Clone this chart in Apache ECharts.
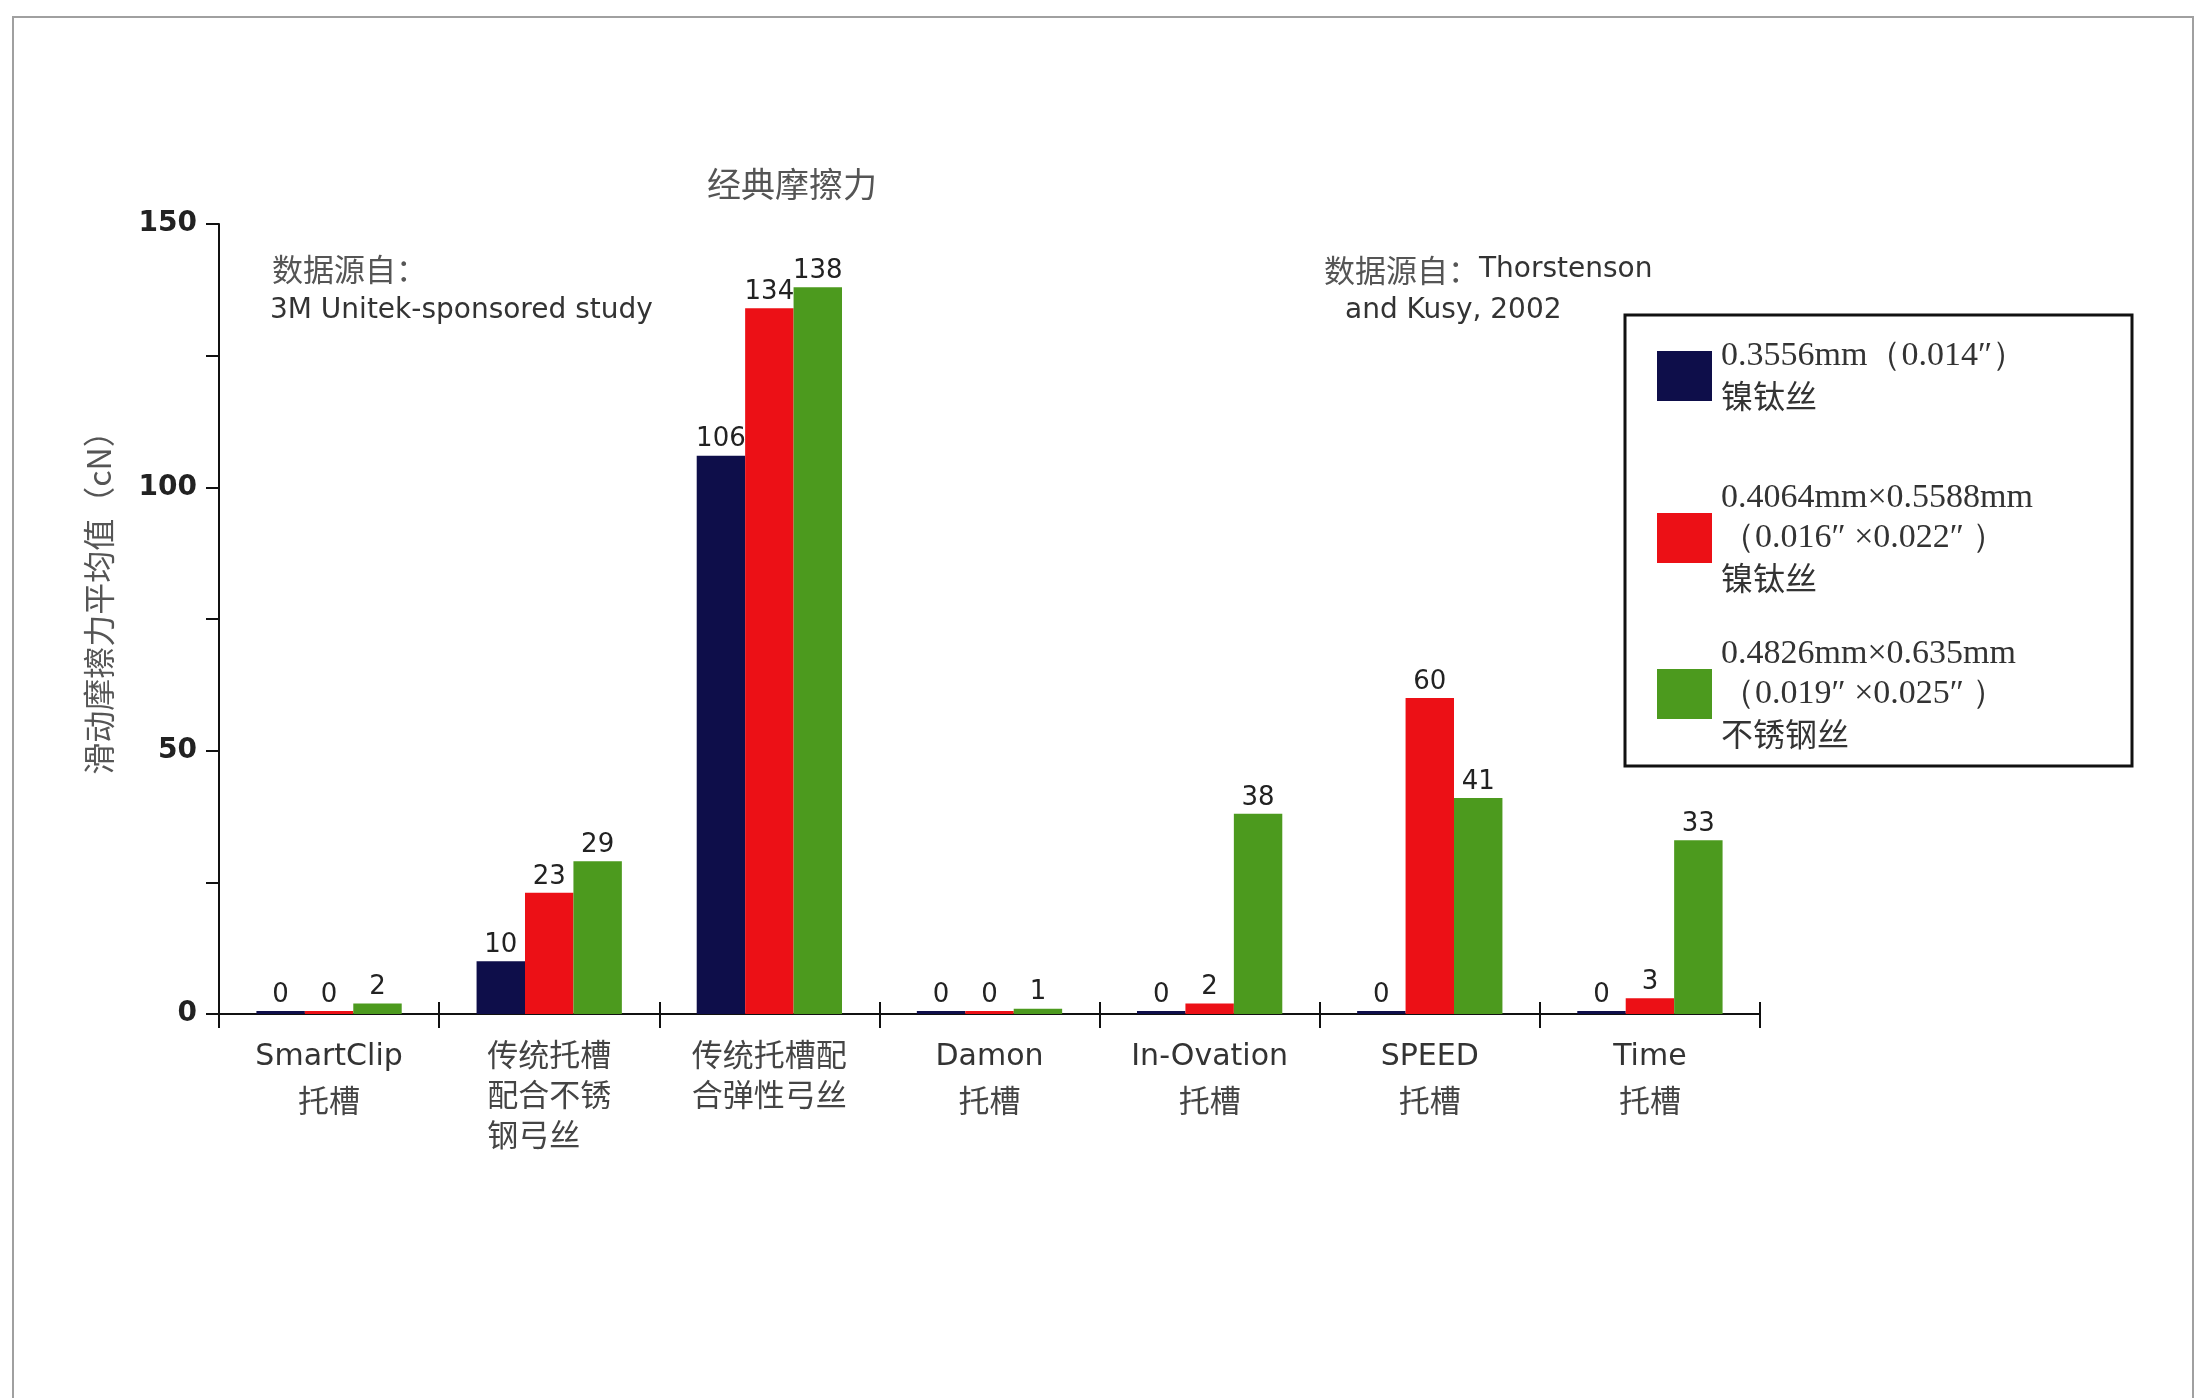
<!DOCTYPE html>
<html>
<head>
<meta charset="utf-8">
<script src="https://cdn.jsdelivr.net/npm/echarts@6/dist/echarts.min.js"></script>
<style>
  html, body { margin: 0; padding: 0; background: #ffffff; }
  #wrap { position: relative; width: 2197px; height: 1398px; overflow: hidden; }
  #chart { position: absolute; left: 0; top: 0; width: 2197px; height: 1398px; }
  #frame { position: absolute; left: 12px; top: 16px; width: 2178px; height: 1400px;
           border: 2px solid #a0a0a0; border-bottom: none; pointer-events: none; }
</style>
</head>
<body>
<div id="wrap">
  <div id="chart"></div>
  <div id="frame"></div>
</div>
<script>
// Bracket types compared in the classic friction test
const categories = [
  'SmartClip\n托槽',
  '传统托槽\n配合不锈\n钢弓丝',
  '传统托槽配\n合弹性弓丝',
  'Damon\n托槽',
  'In-Ovation\n托槽',
  'SPEED\n托槽',
  'Time\n托槽'
];

// Archwire types (legend entries)
const wireNames = [
  '0.3556mm（0.014″）\n镍钛丝',
  '0.4064mm×0.5588mm\n（0.016″ ×0.022″ ）\n镍钛丝',
  '0.4826mm×0.635mm\n（0.019″ ×0.025″ ）\n不锈钢丝'
];

// Mean sliding friction (cN) per bracket, one array per wire
const niti014 = [0, 10, 106, 0, 0, 0, 0];
const niti016x022 = [0, 23, 134, 0, 2, 60, 3];
const ss019x025 = [2, 29, 138, 1, 38, 41, 33];

const yTicks = [0, 50, 100, 150];

const wireColors = ['#0e0e4a', '#ec1016', '#4c9a1e'];

const EN = "'DejaVu Sans', 'Noto Sans', sans-serif";
const ZH = "'Noto Sans CJK SC', sans-serif";
const SERIF = "'Liberation Serif', 'DejaVu Serif', serif";
const isZh = s => /[\u3400-\u9fff]/.test(s);

// Category labels: Latin lines and Chinese lines get their own styles;
// shorter Chinese lines are padded so the block reads left-aligned.
function categoryLabel(value) {
  const lines = value.split('\n');
  const zhMax = Math.max(0, ...lines.filter(isZh).map(l => l.length));
  return lines.map(l => {
    if (isZh(l)) {
      return '{zh|' + l + '　'.repeat(zhMax - l.length) + '}';
    }
    return '{en|' + l + '}';
  }).join('\n');
}

function legendLabel(name) {
  return name.split('\n').map(l => {
    if (/^[\u3400-\u9fff]+$/.test(l)) return '{zh|' + l + '}';
    return '{num|' + l + '}';
  }).join('\n');
}

const legendRich = {
  num: { fontFamily: SERIF, fontSize: 34, lineHeight: 40, color: '#333' },
  zh: { fontFamily: ZH, fontSize: 32, lineHeight: 40, color: '#333' }
};

const legendTops = [339, 481, 637];

const seriesData = [niti014, niti016x022, ss019x025];

const chart = echarts.init(document.getElementById('chart'), null, { renderer: 'canvas' });

chart.setOption({
  backgroundColor: '#ffffff',
  animation: false,
  grid: { left: 219, top: 224, width: 1541, height: 790, containLabel: false },
  legend: wireNames.map((name, i) => ({
    data: [name],
    orient: 'vertical',
    left: 1657,
    top: legendTops[i],
    padding: 0,
    icon: 'rect',
    itemWidth: 55,
    itemHeight: 50,
    selectedMode: false,
    formatter: legendLabel,
    textStyle: { padding: [0, 0, 0, 4], rich: legendRich }
  })),
  xAxis: [
    {
      type: 'category',
      position: 'bottom',
      data: categories,
      axisLine: { show: true, lineStyle: { color: '#111', width: 2 } },
      axisTick: { show: true, length: 14, lineStyle: { color: '#111', width: 2 } },
      axisLabel: {
        margin: 20,
        interval: 0,
        formatter: categoryLabel,
        rich: {
          en: { fontFamily: EN, fontSize: 30, lineHeight: 46, color: '#333' },
          zh: { fontFamily: ZH, fontSize: 31, lineHeight: 40, color: '#444' }
        }
      }
    },
    {
      type: 'category',
      position: 'bottom',
      data: categories,
      axisLine: { show: false },
      axisTick: { show: true, inside: true, length: 12, lineStyle: { color: '#111', width: 2 } },
      axisLabel: { show: false }
    }
  ],
  yAxis: {
    type: 'value',
    min: yTicks[0],
    max: yTicks[yTicks.length - 1],
    interval: yTicks[1] - yTicks[0],
    name: '滑动摩擦力平均值（cN）',
    nameLocation: 'middle',
    nameGap: 104,
    nameTextStyle: { fontFamily: ZH, fontSize: 32, color: '#555', padding: [0, 0, 0, 48] },
    axisLine: { show: true, lineStyle: { color: '#111', width: 2 } },
    axisTick: { show: true, length: 13, lineStyle: { color: '#111', width: 2 } },
    minorTick: { show: true, splitNumber: 2, length: 13, lineStyle: { color: '#111', width: 2 } },
    splitLine: { show: false },
    axisLabel: { margin: 22, fontFamily: EN, fontWeight: 'bold', fontSize: 28, color: '#222' }
  },
  series: wireNames.map((name, i) => ({
    name: name,
    type: 'bar',
    data: seriesData[i],
    barGap: '0%',
    barCategoryGap: '34%',
    barMinHeight: 3,
    itemStyle: { color: wireColors[i] },
    label: {
      show: true,
      position: 'top',
      distance: 3,
      fontFamily: EN,
      fontSize: 26,
      color: '#222'
    }
  })),
  graphic: [
    {
      type: 'text', x: 792, y: 184,
      style: { text: '经典摩擦力', fontFamily: ZH, fontSize: 34, fill: '#555', align: 'center', verticalAlign: 'middle' }
    },
    {
      type: 'text', x: 272, y: 269,
      style: { text: '数据源自：', fontFamily: ZH, fontSize: 31, fill: '#555', align: 'left', verticalAlign: 'middle' }
    },
    {
      type: 'text', x: 270, y: 311,
      style: { text: '3M Unitek-sponsored study', fontFamily: EN, fontSize: 28, fill: '#333', align: 'left', verticalAlign: 'middle' }
    },
    {
      type: 'text', x: 1324, y: 270,
      style: {
        text: '{zh|数据源自：}{en|Thorstenson}', align: 'left', verticalAlign: 'middle',
        rich: {
          zh: { fontFamily: ZH, fontSize: 31, fill: '#555' },
          en: { fontFamily: EN, fontSize: 28, fill: '#333' }
        }
      }
    },
    {
      type: 'text', x: 1345, y: 311,
      style: { text: 'and Kusy, 2002', fontFamily: EN, fontSize: 28, fill: '#333', align: 'left', verticalAlign: 'middle' }
    },
    {
      type: 'rect',
      shape: { x: 1625, y: 315, width: 507, height: 451 },
      style: { fill: 'none', stroke: '#111', lineWidth: 3 },
      silent: true
    }
  ]
});
</script>
</body>
</html>
